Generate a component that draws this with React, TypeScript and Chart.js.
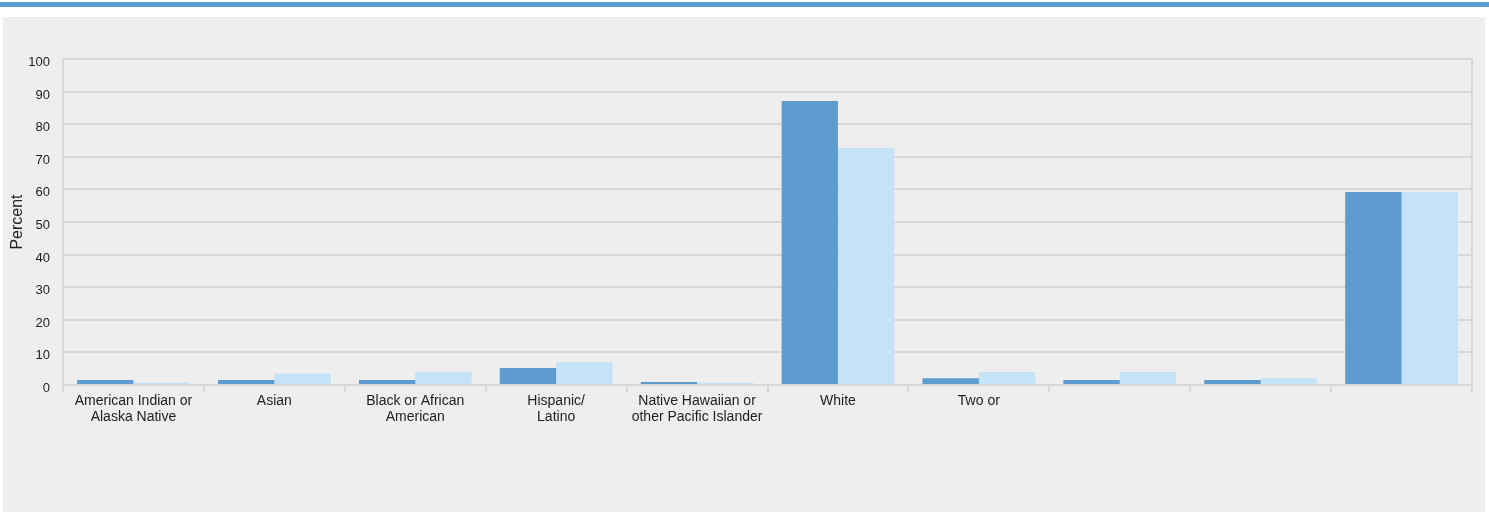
import React, { useEffect, useRef } from "react";
import { Chart, registerables } from "chart.js";

Chart.register(...registerables);

// Category labels (multi-line where the label wraps)
const categories: (string | string[])[] = [
  ["American Indian or", "Alaska Native"],
  "Asian",
  ["Black or African", "American"],
  ["Hispanic/", "Latino"],
  ["Native Hawaiian or", "other Pacific Islander"],
  "White",
  "Two or",
  "",
  "",
  "",
];

// Percent values per category
const seriesDark: number[] = [1.5, 1.5, 1.5, 5.2, 0.9, 87.1, 2.1, 1.5, 1.5, 59.2];
const seriesLight: number[] = [0.8, 3.5, 4.1, 7.0, 0.8, 72.7, 4.0, 4.0, 2.1, 59.2];

const yTicks = { min: 0, max: 100, step: 10 };

const FONT = "'Liberation Sans', Arial, sans-serif";
const GRID = "#d8d8d8";
const TEXT = "#222";

// Draws the frame line along the right edge of the plot area
const rightEdge = {
  id: "rightEdge",
  afterDraw(chart: Chart) {
    const { ctx, chartArea } = chart;
    ctx.save();
    ctx.strokeStyle = GRID;
    ctx.lineWidth = 2;
    ctx.beginPath();
    ctx.moveTo(chartArea.right, chartArea.top - 1);
    ctx.lineTo(chartArea.right, chartArea.bottom);
    ctx.stroke();
    ctx.restore();
  },
};

export default function App() {
  const canvasRef = useRef<HTMLCanvasElement | null>(null);

  useEffect(() => {
    if (!canvasRef.current) return;
    const chart = new Chart(canvasRef.current, {
      type: "bar",
      data: {
        labels: categories,
        datasets: [
          {
            label: "Series A",
            data: seriesDark,
            backgroundColor: "#5e9bcf",
            categoryPercentage: 0.8,
            barPercentage: 1.0,
          },
          {
            label: "Series B",
            data: seriesLight,
            backgroundColor: "#c5e3f6",
            categoryPercentage: 0.8,
            barPercentage: 1.0,
          },
        ],
      },
      options: {
        animation: false,
        responsive: false,
        maintainAspectRatio: false,
        layout: { padding: { top: 42, right: 13, left: 0, bottom: 0 } },
        plugins: {
          legend: { display: false },
          tooltip: { enabled: false },
        },
        scales: {
          x: {
            grid: {
              offset: true,
              drawOnChartArea: false,
              tickLength: 7,
              color: GRID,
              lineWidth: 2,
            },
            border: { color: GRID, width: 2 },
            ticks: {
              autoSkip: false,
              maxRotation: 0,
              minRotation: 0,
              padding: 1,
              color: TEXT,
              font: { family: FONT, size: 14, lineHeight: "16px" },
            },
            afterFit: (scale: any) => {
              scale.height = 127;
            },
          },
          y: {
            min: yTicks.min,
            max: yTicks.max,
            ticks: {
              stepSize: yTicks.step,
              padding: 13,
              color: TEXT,
              font: { family: FONT, size: 13, lineHeight: "7px" },
              // empty first line nudges each value slightly below its grid line
              callback: (value: any) => ["", String(value)],
            },
            grid: { color: GRID, lineWidth: 2, drawTicks: false, tickLength: 0 },
            border: { color: GRID, width: 2 },
            title: {
              display: true,
              text: "Percent",
              color: TEXT,
              font: { family: FONT, size: 16, lineHeight: 1.2 },
              padding: { top: 5, bottom: 0 },
            },
            afterFit: (scale: any) => {
              scale.width = 60;
            },
          },
        },
      },
      plugins: [rightEdge],
    });
    return () => chart.destroy();
  }, []);

  return (
    <div
      style={{
        position: "absolute",
        left: 0,
        top: 0,
        width: 1489,
        height: 512,
        background: "#ffffff",
        overflow: "hidden",
      }}
    >
      <div
        style={{
          position: "absolute",
          left: 0,
          top: 2,
          width: 1489,
          height: 5,
          background: "#5b9bd3",
        }}
      />
      <div
        style={{
          position: "absolute",
          left: 3,
          top: 17,
          width: 1482,
          height: 495,
          background: "#eeeeee",
        }}
      >
        <canvas
          ref={canvasRef}
          width={1482}
          height={495}
          style={{ display: "block", width: 1482, height: 495 }}
        />
      </div>
    </div>
  );
}
